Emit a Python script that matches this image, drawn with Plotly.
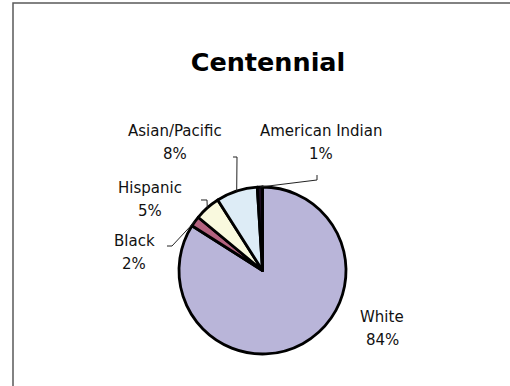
import math
import plotly.graph_objects as go

# Enrollment share by group, Centennial
groups = ["White", "Black", "Hispanic", "Asian/Pacific", "American Indian"]
shares = [84, 2, 5, 8, 1]
colors = ["#B9B5D9", "#B3627F", "#F9F9DE", "#DDECF6", "#1E0F22"]

W, H = 510, 386
CX, CY, R = 262.5, 270.5, 83.5  # pie centre and radius in pixels


def px(x, y):
    """Pixel position -> paper coordinates (no margins)."""
    return x / W, 1 - y / H


# label placement (pixel centre of the name line) and leader-line elbow
label_pos = {
    "White": (382, 317),
    "Black": (134, 241),
    "Hispanic": (150, 188),
    "Asian/Pacific": (175, 131),
    "American Indian": (321, 131),
}
leader = {
    "Black": [(172, 246), (167, 246)],
    "Hispanic": [(207, 200), (201, 200)],
    "Asian/Pacific": [(237, 157), (233, 157)],
    "American Indian": [(317, 180), (317, 175)],
}
LINE_GAP = 23

fig = go.Figure(
    go.Pie(
        labels=groups,
        values=shares,
        sort=False,
        direction="clockwise",
        rotation=0,
        marker=dict(colors=colors, line=dict(color="#000000", width=2.8)),
        textinfo="none",
        hoverinfo="skip",
        domain=dict(
            x=[(CX - R) / W, (CX + R) / W],
            y=[1 - (CY + R) / H, 1 - (CY - R) / H],
        ),
    )
)

annotations = []
shapes = []
total = sum(shares)
start = 0.0
for name, v in zip(groups, shares):
    frac = v / total
    mid = (start + frac / 2) * 2 * math.pi  # clockwise from 12 o'clock
    start += frac
    lx, ly = label_pos[name]
    for text, yy in ((name, ly), (f"{round(frac * 100)}%", ly + LINE_GAP)):
        ax, ay = px(lx, yy)
        annotations.append(
            dict(
                x=ax, y=ay, xref="paper", yref="paper", text=text,
                showarrow=False, xanchor="center", yanchor="middle",
                font=dict(family="DejaVu Sans", size=15, color="#111111"),
            )
        )
    if name in leader:
        ex = CX + R * math.sin(mid)
        ey = CY - R * math.cos(mid)
        pts = [(ex, ey)] + leader[name]
        path = "M " + " L ".join(
            f"{px(x, y)[0]:.5f},{px(x, y)[1]:.5f}" for x, y in pts
        )
        shapes.append(
            dict(type="path", path=path, xref="paper", yref="paper",
                 line=dict(color="#222222", width=1))
        )

# chart-area frame
fx0, fy0 = px(13, 3)
shapes.append(
    dict(type="rect", xref="paper", yref="paper",
         x0=fx0, y0=-0.2, x1=1.2, y1=fy0,
         line=dict(color="#5a5a5a", width=1.5), fillcolor="rgba(0,0,0,0)")
)

tx, ty = px(268, 62)
fig.update_layout(
    width=W,
    height=H,
    margin=dict(l=0, r=0, t=0, b=0),
    paper_bgcolor="#FFFFFF",
    plot_bgcolor="#FFFFFF",
    showlegend=False,
    title=dict(
        text="<b>Centennial</b>",
        x=tx, y=ty, xref="paper", yref="paper",
        xanchor="center", yanchor="middle",
        font=dict(family="DejaVu Sans", size=25.5, color="#000000"),
    ),
    annotations=annotations,
    shapes=shapes,
)

fig.write_html("out.html")
